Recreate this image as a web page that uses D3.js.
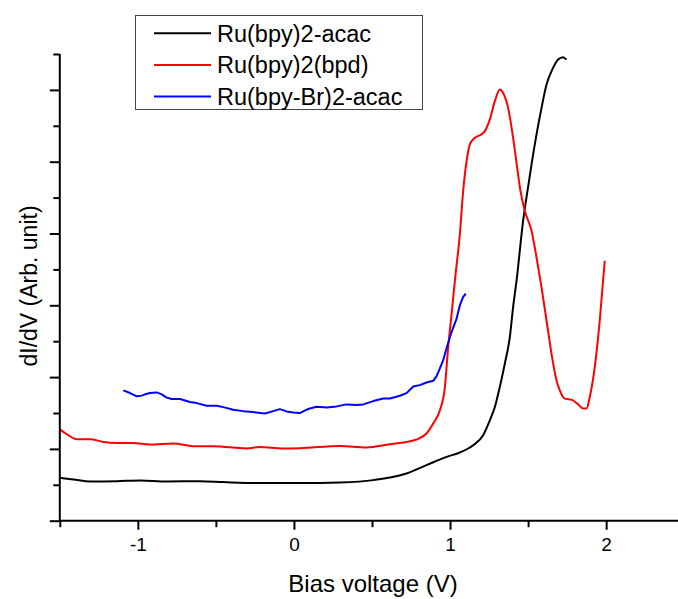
<!DOCTYPE html>
<html>
<head>
<meta charset="utf-8">
<script src="https://cdn.jsdelivr.net/npm/d3@7"></script>
<style>
  html, body { margin: 0; padding: 0; background: #fff; }
  svg { display: block; font-family: Arial, "Liberation Sans", sans-serif; }
</style>
</head>
<body>
<svg id="chart" width="678" height="599"></svg>
<script>
// ---- data (bias voltage in V, dI/dV in arbitrary units) ----
const seriesNames = ["Ru(bpy)2-acac", "Ru(bpy)2(bpd)", "Ru(bpy-Br)2-acac"];
const seriesColors = ["#000000", "#ff0000", "#0000ff"];

const blackV = [-1.498,-1.413,-1.306,-1.135,-0.986,-0.815,-0.602,-0.453,-0.239,0.038,0.295,0.508,0.721,0.849,0.978,1.063,1.148,1.212,1.255,1.287,1.319,1.351,1.383,1.404,1.426,1.468,1.506,1.522,1.554,1.586,1.618,1.660,1.692,1.724,1.746];
const blackI = [0.597,0.575,0.547,0.551,0.561,0.547,0.551,0.538,0.524,0.524,0.533,0.565,0.658,0.774,0.889,0.950,1.051,1.190,1.399,1.583,1.864,2.189,2.558,2.974,3.343,4.176,4.732,4.964,5.381,5.750,6.075,6.306,6.422,6.454,6.422];

const redV = [-1.498,-1.455,-1.391,-1.306,-1.221,-1.135,-1.029,-0.922,-0.773,-0.645,-0.517,-0.303,-0.218,-0.069,0.038,0.295,0.465,0.615,0.721,0.785,0.849,0.892,0.935,0.967,0.988,1.010,1.031,1.063,1.084,1.106,1.127,1.159,1.202,1.223,1.255,1.287,1.319,1.340,1.372,1.404,1.430,1.451,1.479,1.522,1.554,1.586,1.618,1.650,1.682,1.703,1.735,1.778,1.820,1.852,1.874,1.895,1.927,1.959,1.991];
const redI = [1.269,1.204,1.135,1.135,1.097,1.083,1.083,1.061,1.075,1.038,1.038,1.006,1.028,1.006,1.010,1.042,1.019,1.065,1.097,1.131,1.214,1.353,1.538,1.861,2.417,2.881,3.343,3.996,4.593,5.010,5.242,5.333,5.381,5.426,5.589,5.843,6.006,5.958,5.750,5.333,4.917,4.593,4.315,4.038,3.667,3.250,2.788,2.325,1.954,1.815,1.700,1.686,1.621,1.561,1.561,1.722,2.139,2.788,3.621];

const blueV = [-1.093,-1.050,-1.007,-0.975,-0.954,-0.922,-0.879,-0.847,-0.815,-0.783,-0.730,-0.666,-0.623,-0.559,-0.495,-0.453,-0.389,-0.325,-0.261,-0.186,-0.133,-0.090,-0.047,-0.004,0.038,0.081,0.102,0.145,0.209,0.273,0.337,0.401,0.444,0.508,0.572,0.615,0.679,0.721,0.764,0.806,0.849,0.892,0.913,0.935,0.956,0.977,1.010,1.042,1.063,1.084,1.101];
const blueI = [1.815,1.778,1.732,1.742,1.760,1.778,1.787,1.760,1.714,1.694,1.694,1.653,1.638,1.601,1.601,1.582,1.546,1.526,1.513,1.494,1.526,1.554,1.522,1.508,1.499,1.546,1.564,1.587,1.578,1.592,1.620,1.610,1.620,1.666,1.703,1.703,1.740,1.777,1.870,1.888,1.925,1.948,2.009,2.121,2.236,2.399,2.631,2.815,3.001,3.117,3.163];

const xMajorTicks = [-1, 0, 1, 2];
const xMinorTicks = [-1.5, -0.5, 0.5, 1.5, 2.5];
const yMajorTicks = [0, 1, 2, 3, 4, 5, 6];
const yMinorTicks = [0.5, 1.5, 2.5, 3.5, 4.5, 5.5, 6.5];
const xTitle = "Bias voltage (V)";
const yTitle = "dI/dV (Arb. unit)";

// ---- layout ----
const svg = d3.select("#chart");
const x = d3.scaleLinear().domain([-1.5, 2.5]).range([59.8, 684.2]);
const y = d3.scaleLinear().domain([0, 6.5]).range([520.7, 54]);

const series = [
  {name: seriesNames[0], color: seriesColors[0], pts: blackV.map((v, i) => [v, blackI[i]]), curve: d3.curveMonotoneX},
  {name: seriesNames[1], color: seriesColors[1], pts: redV.map((v, i) => [v, redI[i]]), curve: d3.curveMonotoneX},
  {name: seriesNames[2], color: seriesColors[2], pts: blueV.map((v, i) => [v, blueI[i]]), curve: d3.curveLinear}
];

// curves
series.forEach(s => {
  const line = d3.line().x(d => x(d[0])).y(d => y(d[1])).curve(s.curve);
  svg.append("path").datum(s.pts)
    .attr("d", line)
    .attr("fill", "none")
    .attr("stroke", s.color)
    .attr("stroke-width", 2)
    .attr("stroke-linejoin", "round");
});

// x axis
const xAxisMajor = d3.axisBottom(x).tickValues(xMajorTicks).tickSize(9).tickPadding(8)
  .tickFormat(d => d < 0 ? "-" + Math.abs(d) : String(d));
const gx = svg.append("g").attr("transform", `translate(0,${y(0)})`).call(xAxisMajor);
gx.select(".domain").attr("d", `M${x(-1.5)},0H678`).attr("stroke-width", 2);
gx.selectAll(".tick line").attr("stroke-width", 2);
gx.selectAll(".tick text").attr("font-size", 19).attr("fill", "#000")
  .attr("font-family", "Arial, 'Liberation Sans', sans-serif");
const gxm = svg.append("g").attr("transform", `translate(0,${y(0)})`)
  .call(d3.axisBottom(x).tickValues(xMinorTicks).tickSize(6.5).tickFormat(""));
gxm.select(".domain").remove();
gxm.selectAll(".tick line").attr("stroke-width", 2);

// y axis
const gy = svg.append("g").attr("transform", `translate(${x(-1.5)},0)`)
  .call(d3.axisLeft(y).tickValues(yMajorTicks).tickSize(10).tickFormat(""));
gy.select(".domain").attr("d", `M0,${y(6.5)}V${y(0)}`).attr("stroke-width", 2);
gy.selectAll(".tick line").attr("stroke-width", 2);
const gym = svg.append("g").attr("transform", `translate(${x(-1.5)},0)`)
  .call(d3.axisLeft(y).tickValues(yMinorTicks).tickSize(6.5).tickFormat(""));
gym.select(".domain").remove();
gym.selectAll(".tick line").attr("stroke-width", 2);

// axis titles
svg.append("text").attr("x", 373).attr("y", 591.5)
  .attr("text-anchor", "middle").attr("font-size", 24).attr("fill", "#000").text(xTitle);
svg.append("text").attr("transform", "translate(37,286) rotate(-90)")
  .attr("text-anchor", "middle").attr("font-size", 23).attr("fill", "#000").text(yTitle);

// legend
const lg = svg.append("g");
lg.append("rect").attr("x", 135.5).attr("y", 15.5).attr("width", 287).attr("height", 94)
  .attr("fill", "#fff").attr("stroke", "#444").attr("stroke-width", 1);
const rowY = [33.3, 65, 96.5];
series.forEach((s, i) => {
  lg.append("line").attr("x1", 154).attr("x2", 211).attr("y1", rowY[i]).attr("y2", rowY[i])
    .attr("stroke", s.color).attr("stroke-width", 2);
  lg.append("text").attr("x", 217).attr("y", rowY[i]).attr("dy", "0.36em")
    .attr("font-size", 23.5).attr("fill", "#000").text(s.name);
});
</script>
</body>
</html>
